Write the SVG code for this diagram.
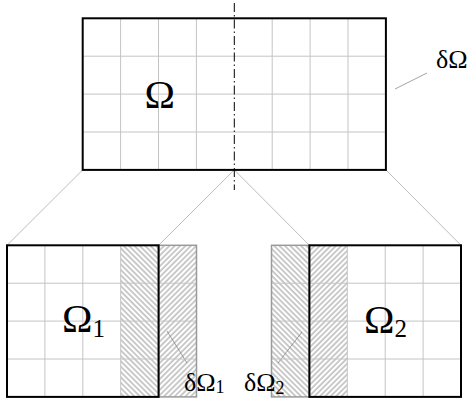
<svg xmlns="http://www.w3.org/2000/svg" width="469" height="399" viewBox="0 0 469 399">
<defs>
<pattern id="hb" width="3.8" height="10" patternUnits="userSpaceOnUse" patternTransform="rotate(-45)">
<line x1="1" y1="-1" x2="1" y2="11" stroke="#7a7a7a" stroke-width="0.8"/>
</pattern>
<pattern id="hf" width="3.8" height="10" patternUnits="userSpaceOnUse" patternTransform="rotate(45)">
<line x1="1" y1="-1" x2="1" y2="11" stroke="#7a7a7a" stroke-width="0.8"/>
</pattern>
<style>
.grid{stroke:#c4c4c4;stroke-width:1;fill:none}
.thick{stroke:#000;stroke-width:2;fill:none}
.ext{stroke:#9a9a9a;stroke-width:1.5;fill:none}
.conn{stroke:#bdbdbd;stroke-width:1;fill:none}
.lead{stroke:#8a8a8a;stroke-width:0.8;fill:none}
.axis{stroke:#000;stroke-width:1;fill:none;stroke-dasharray:9 3 1.5 3}
text{font-family:"Liberation Serif","DejaVu Serif",serif;fill:#000}
.big{font-size:41px}
.sub{font-size:25px}
.small{font-size:26px}
.ssub{font-size:18px}
</style>
</defs>
<rect width="469" height="399" fill="#fff"/>
<g id="connectors">
<line class="conn" x1="82.7" y1="169.9" x2="7" y2="245.3"/>
<line class="conn" x1="234.3" y1="169.9" x2="158.6" y2="245.3"/>
<line class="conn" x1="234.3" y1="169.9" x2="309.4" y2="245.3"/>
<line class="conn" x1="385.9" y1="169.9" x2="461" y2="245.3"/>
<line class="lead" x1="395" y1="89" x2="427" y2="73"/>
<line class="lead" x1="167" y1="331" x2="187" y2="363"/>
<line class="lead" x1="302" y1="332" x2="278" y2="363"/>
</g>
<g id="omega">
<path class="grid" d="M120.6 18.3V169.9M158.5 18.3V169.9M196.4 18.3V169.9M272.2 18.3V169.9M310.1 18.3V169.9M348 18.3V169.9M82.7 56.2H385.9M82.7 94.1H385.9M82.7 132H385.9"/>
<rect class="thick" x="82.7" y="18.3" width="303.2" height="151.6"/>
<text class="big" x="144.5" y="107.5">Ω</text>
<text class="small" x="436" y="67.5">δΩ</text>
</g>
<g id="omega1">
<rect x="120.7" y="245.3" width="37.9" height="151.6" fill="url(#hb)"/>
<rect x="158.6" y="245.3" width="37.9" height="151.6" fill="url(#hf)"/>
<path class="grid" d="M44.9 245.3V396.9M82.8 245.3V396.9M120.7 245.3V396.9M7 283.2H196.5M7 321.1H196.5M7 359H196.5"/>
<rect class="ext" x="158.6" y="245.3" width="37.9" height="151.6"/>
<rect class="thick" x="7" y="245.3" width="151.6" height="151.6"/>
<text class="big" x="62" y="331.7">Ω<tspan class="sub" dy="5">1</tspan></text>
<text class="small" x="184" y="391">δΩ<tspan class="ssub" dy="2">1</tspan></text>
</g>
<g id="omega2">
<rect x="271.5" y="245.3" width="37.9" height="151.6" fill="url(#hb)"/>
<rect x="309.4" y="245.3" width="37.9" height="151.6" fill="url(#hf)"/>
<path class="grid" d="M347.3 245.3V396.9M385.2 245.3V396.9M423.1 245.3V396.9M271.5 283.2H461M271.5 321.1H461M271.5 359H461"/>
<rect class="ext" x="271.5" y="245.3" width="37.9" height="151.6"/>
<rect class="thick" x="309.4" y="245.3" width="151.6" height="151.6"/>
<text class="big" x="364" y="332.7">Ω<tspan class="sub" dy="4">2</tspan></text>
<text class="small" x="244" y="391">δΩ<tspan class="ssub" dy="3">2</tspan></text>
</g>
<line id="axis" class="axis" x1="234.3" y1="3" x2="234.3" y2="190"/>
</svg>
